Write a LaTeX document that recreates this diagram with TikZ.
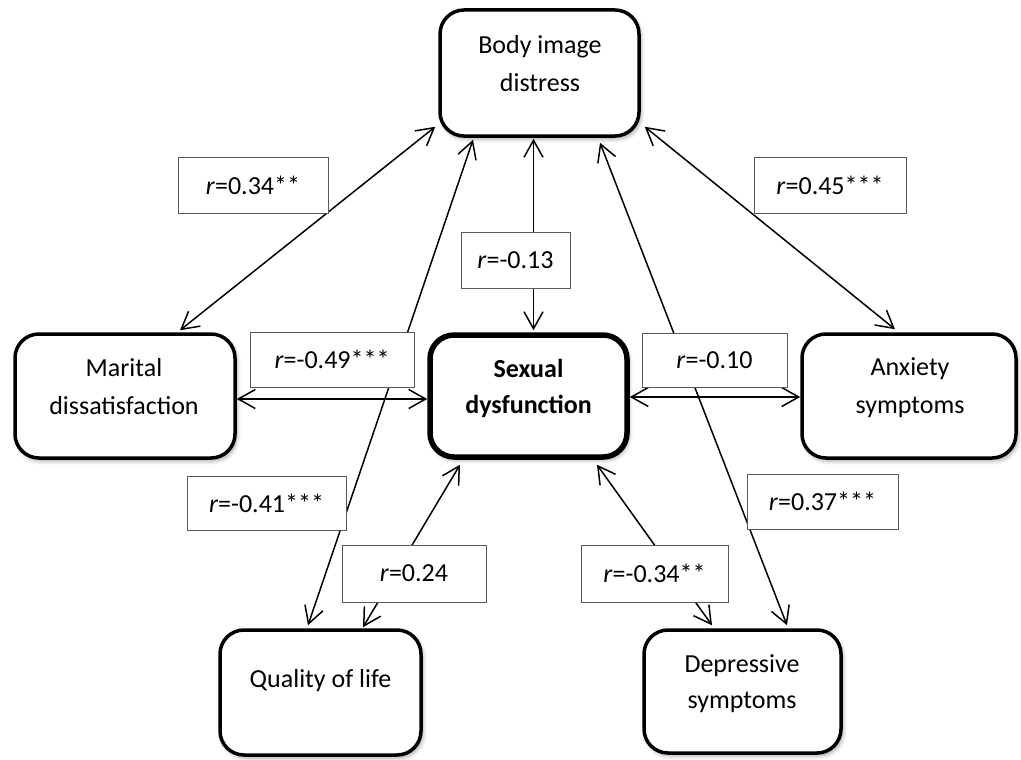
\documentclass[tikz,border=0pt]{standalone}
\usepackage{fontspec}
\setmainfont{Carlito}
\usetikzlibrary{arrows.meta,calc,shadows.blur}
\begin{document}
\begin{tikzpicture}[x=1pt,y=-1pt,
  every node/.style={font=\fontsize{26}{38}\selectfont},
  factor/.style={draw=black, line width=3.5pt, rounded corners=24pt, fill=white,
    blur shadow={shadow xshift=2pt, shadow yshift=-3pt, shadow blur radius=4pt, shadow opacity=35},
    inner sep=0pt},
  hub/.style={factor, line width=5.5pt},
  caption/.style={inner sep=0pt, align=center, anchor=north},
  tight/.style={font=\fontsize{26}{36}\selectfont},
  coef/.style={draw=black!65, line width=1pt, fill=white, inner sep=0pt},
  link/.style={line width=1.5pt,
    {Straight Barb[length=17pt,width=19pt]}-{Straight Barb[length=17pt,width=19pt]}}
]
\useasboundingbox (0,0) rectangle (1021,760);

% construct boxes
\node[factor, minimum width=199pt, minimum height=126pt] (body)    at (539.5,73)  {};
\node[factor, minimum width=220pt, minimum height=124pt] (marital) at (125,396)   {};
\node[hub,    minimum width=197pt, minimum height=122pt] (sexual)  at (528.5,396) {};
\node[factor, minimum width=214pt, minimum height=124pt] (anxiety) at (909,396)   {};
\node[factor, minimum width=201pt, minimum height=125pt] (qol)     at (320.5,692.5) {};
\node[factor, minimum width=197pt, minimum height=123pt] (dep)     at (742.5,691.5) {};

% construct names
\node[caption] (bodyT)    at (540,35)    {Body image\\distress};
\node[caption] (maritalT) at (124,358)   {Marital\\dissatisfaction};
\node[caption, font=\fontsize{26}{36}\selectfont\bfseries] (sexualT) at (528.5,359) {Sexual\\dysfunction};
\node[caption] (anxietyT) at (910,357)   {Anxiety\\symptoms};
\node[caption] (qolT)     at (320.5,669) {Quality of life};
\node[caption, tight] (depT) at (742,654) {Depressive\\symptoms};

% correlations between constructs
\draw[link] ($(body.south west)+(-3,-11)$) -- ($(marital.north)+(55,-2)$);
\draw[link] ($(body.south east)+(4,-11)$)  -- ($(anxiety.north)+(-14,-3)$);
\draw[link] ($(body.south)+(-6,1)$)        -- ($(sexual.north)+(5,-2)$);
\draw[link] ($(marital.east)+(0,3)$)       -- ($(sexual.west)+(0,3)$);
\draw[link] ($(sexual.east)+(0,1)$)        -- ($(anxiety.west)+(0,1)$);
\draw[link] ($(body.south)+(-66.5,2)$)     -- ($(qol.north)+(-12.5,-3)$);
\draw[link] ($(body.south)+(60.5,5)$)      -- ($(dep.north)+(44.5,-3)$);
\draw[link] ($(sexual.south)+(-68.5,5)$)   -- ($(qol.north)+(42.5,-1)$);
\draw[link] ($(sexual.south)+(68.5,5)$)    -- ($(dep.north)+(-30.5,-3)$);

% correlation coefficients
\node[coef, minimum width=150pt, minimum height=56pt] (c1) at (253,185)     {\textit{r}=0.34**};
\node[coef, minimum width=152pt, minimum height=56pt] (c2) at (830,185)     {\textit{r}=0.45***};
\node[coef, minimum width=109pt, minimum height=56pt] (c3) at (515.5,260)   {\textit{r}=-0.13};
\node[coef, minimum width=164pt, minimum height=55pt] (c4) at (332,359.5)   {\textit{r}=-0.49***};
\node[coef, minimum width=145pt, minimum height=54pt] (c5) at (714.5,360)   {\textit{r}=-0.10};
\node[coef, minimum width=159pt, minimum height=54pt] (c6) at (266.5,503)   {\textit{r}=-0.41***};
\node[coef, minimum width=144pt, minimum height=57pt] (c7) at (414,573.5)   {\textit{r}=0.24};
\node[coef, minimum width=151pt, minimum height=55pt] (c8) at (822.5,501.5) {\textit{r}=0.37***};
\node[coef, minimum width=147pt, minimum height=57pt] (c9) at (654.5,573.5) {\textit{r}=-0.34**};
\end{tikzpicture}
\end{document}
